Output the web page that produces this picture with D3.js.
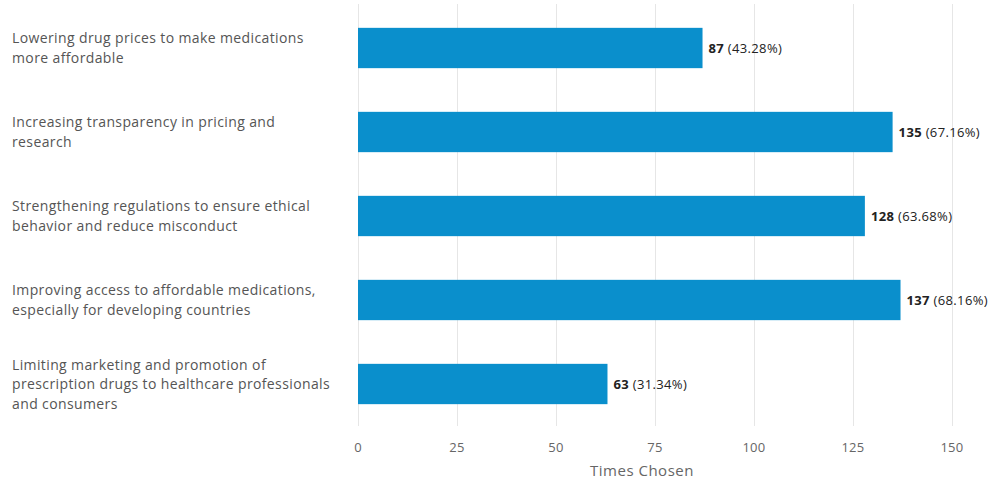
<!DOCTYPE html>
<html lang="en">
  <head>
    <meta charset="UTF-8" />
    <title>Times Chosen</title>
    <script src="https://cdn.jsdelivr.net/npm/d3@7"></script>
    <style>
      body { margin: 0; background: #fff; }
      text { font-family: "Open Sans", sans-serif; }
      .grid line { stroke: #e6e6e6; stroke-width: 1px; }
      .bar { fill: #0a8fcc; }
      .cat-label { fill: #555; font-size: 14px; letter-spacing: 0.38px; }
      .tick-label { fill: #666; font-size: 13px; letter-spacing: 0.3px; }
      .axis-title { fill: #666; font-size: 15px; letter-spacing: 0.5px; }
      .val-label { fill: #222; font-size: 13px; letter-spacing: 0.35px; }
    </style>
  </head>
  <body>
    <script>
      // Data
      var categories = [
        ["Lowering drug prices to make medications", "more affordable"],
        ["Increasing transparency in pricing and", "research"],
        ["Strengthening regulations to ensure ethical", "behavior and reduce misconduct"],
        ["Improving access to affordable medications,", "especially for developing countries"],
        ["Limiting marketing and promotion of", "prescription drugs to healthcare professionals", "and consumers"]
      ];
      var counts = [87, 135, 128, 137, 63];
      var percents = ["43.28%", "67.16%", "63.68%", "68.16%", "31.34%"];
      var xTicks = [0, 25, 50, 75, 100, 125, 150];

      var w = 997, h = 485;

      var svg = d3.select("body").append("svg")
        .attr("width", w)
        .attr("height", h);

      // Scales
      var xScale = d3.scaleLinear()
        .domain([0, 150])
        .range([358, 952]);

      var yScale = d3.scaleBand()
        .domain(d3.range(categories.length))
        .range([6, 426])
        .paddingInner(0.52)
        .paddingOuter(0.26);

      // Gridlines
      svg.append("g")
        .attr("class", "grid")
        .selectAll("line")
        .data(xTicks)
        .enter()
        .append("line")
        .attr("x1", function(d) { return Math.round(xScale(d)) + 0.5; })
        .attr("x2", function(d) { return Math.round(xScale(d)) + 0.5; })
        .attr("y1", 4)
        .attr("y2", 426);

      // Tick labels
      svg.append("g")
        .selectAll("text")
        .data(xTicks)
        .enter()
        .append("text")
        .attr("class", "tick-label")
        .attr("x", function(d) { return xScale(d); })
        .attr("y", 452)
        .attr("text-anchor", "middle")
        .text(function(d) { return d; });

      // Axis title (sits a little left of the plot centre in the original)
      svg.append("text")
        .attr("class", "axis-title")
        .attr("x", 642)
        .attr("y", 476)
        .attr("text-anchor", "middle")
        .text("Times Chosen");

      // Bars
      svg.selectAll("rect.bar")
        .data(counts)
        .enter()
        .append("rect")
        .attr("class", "bar")
        .attr("x", xScale(0))
        .attr("y", function(d, i) { return yScale(i); })
        .attr("width", function(d) { return xScale(d) - xScale(0); })
        .attr("height", yScale.bandwidth());

      // Value labels
      var vals = svg.selectAll("text.val-label")
        .data(counts)
        .enter()
        .append("text")
        .attr("class", "val-label")
        .attr("x", function(d) { return xScale(d) + 6; })
        .attr("y", function(d, i) { return yScale(i) + yScale.bandwidth() / 2 + 4.5; });
      vals.append("tspan")
        .attr("font-weight", "bold")
        .text(function(d) { return d; });
      vals.append("tspan")
        .text(function(d, i) { return " (" + percents[i] + ")"; });

      // Category labels
      var lineH = 19.5;
      svg.selectAll("text.cat-label")
        .data(categories)
        .enter()
        .append("text")
        .attr("class", "cat-label")
        .attr("x", 12)
        .attr("y", function(d, i) {
          var mid = yScale(i) + yScale.bandwidth() / 2;
          return mid - (d.length - 1) * lineH / 2 + 5;
        })
        .each(function(d) {
          var t = d3.select(this);
          d.forEach(function(line, j) {
            t.append("tspan")
              .attr("x", 12)
              .attr("dy", j === 0 ? 0 : lineH)
              .text(line);
          });
        });
    </script>
  </body>
</html>
